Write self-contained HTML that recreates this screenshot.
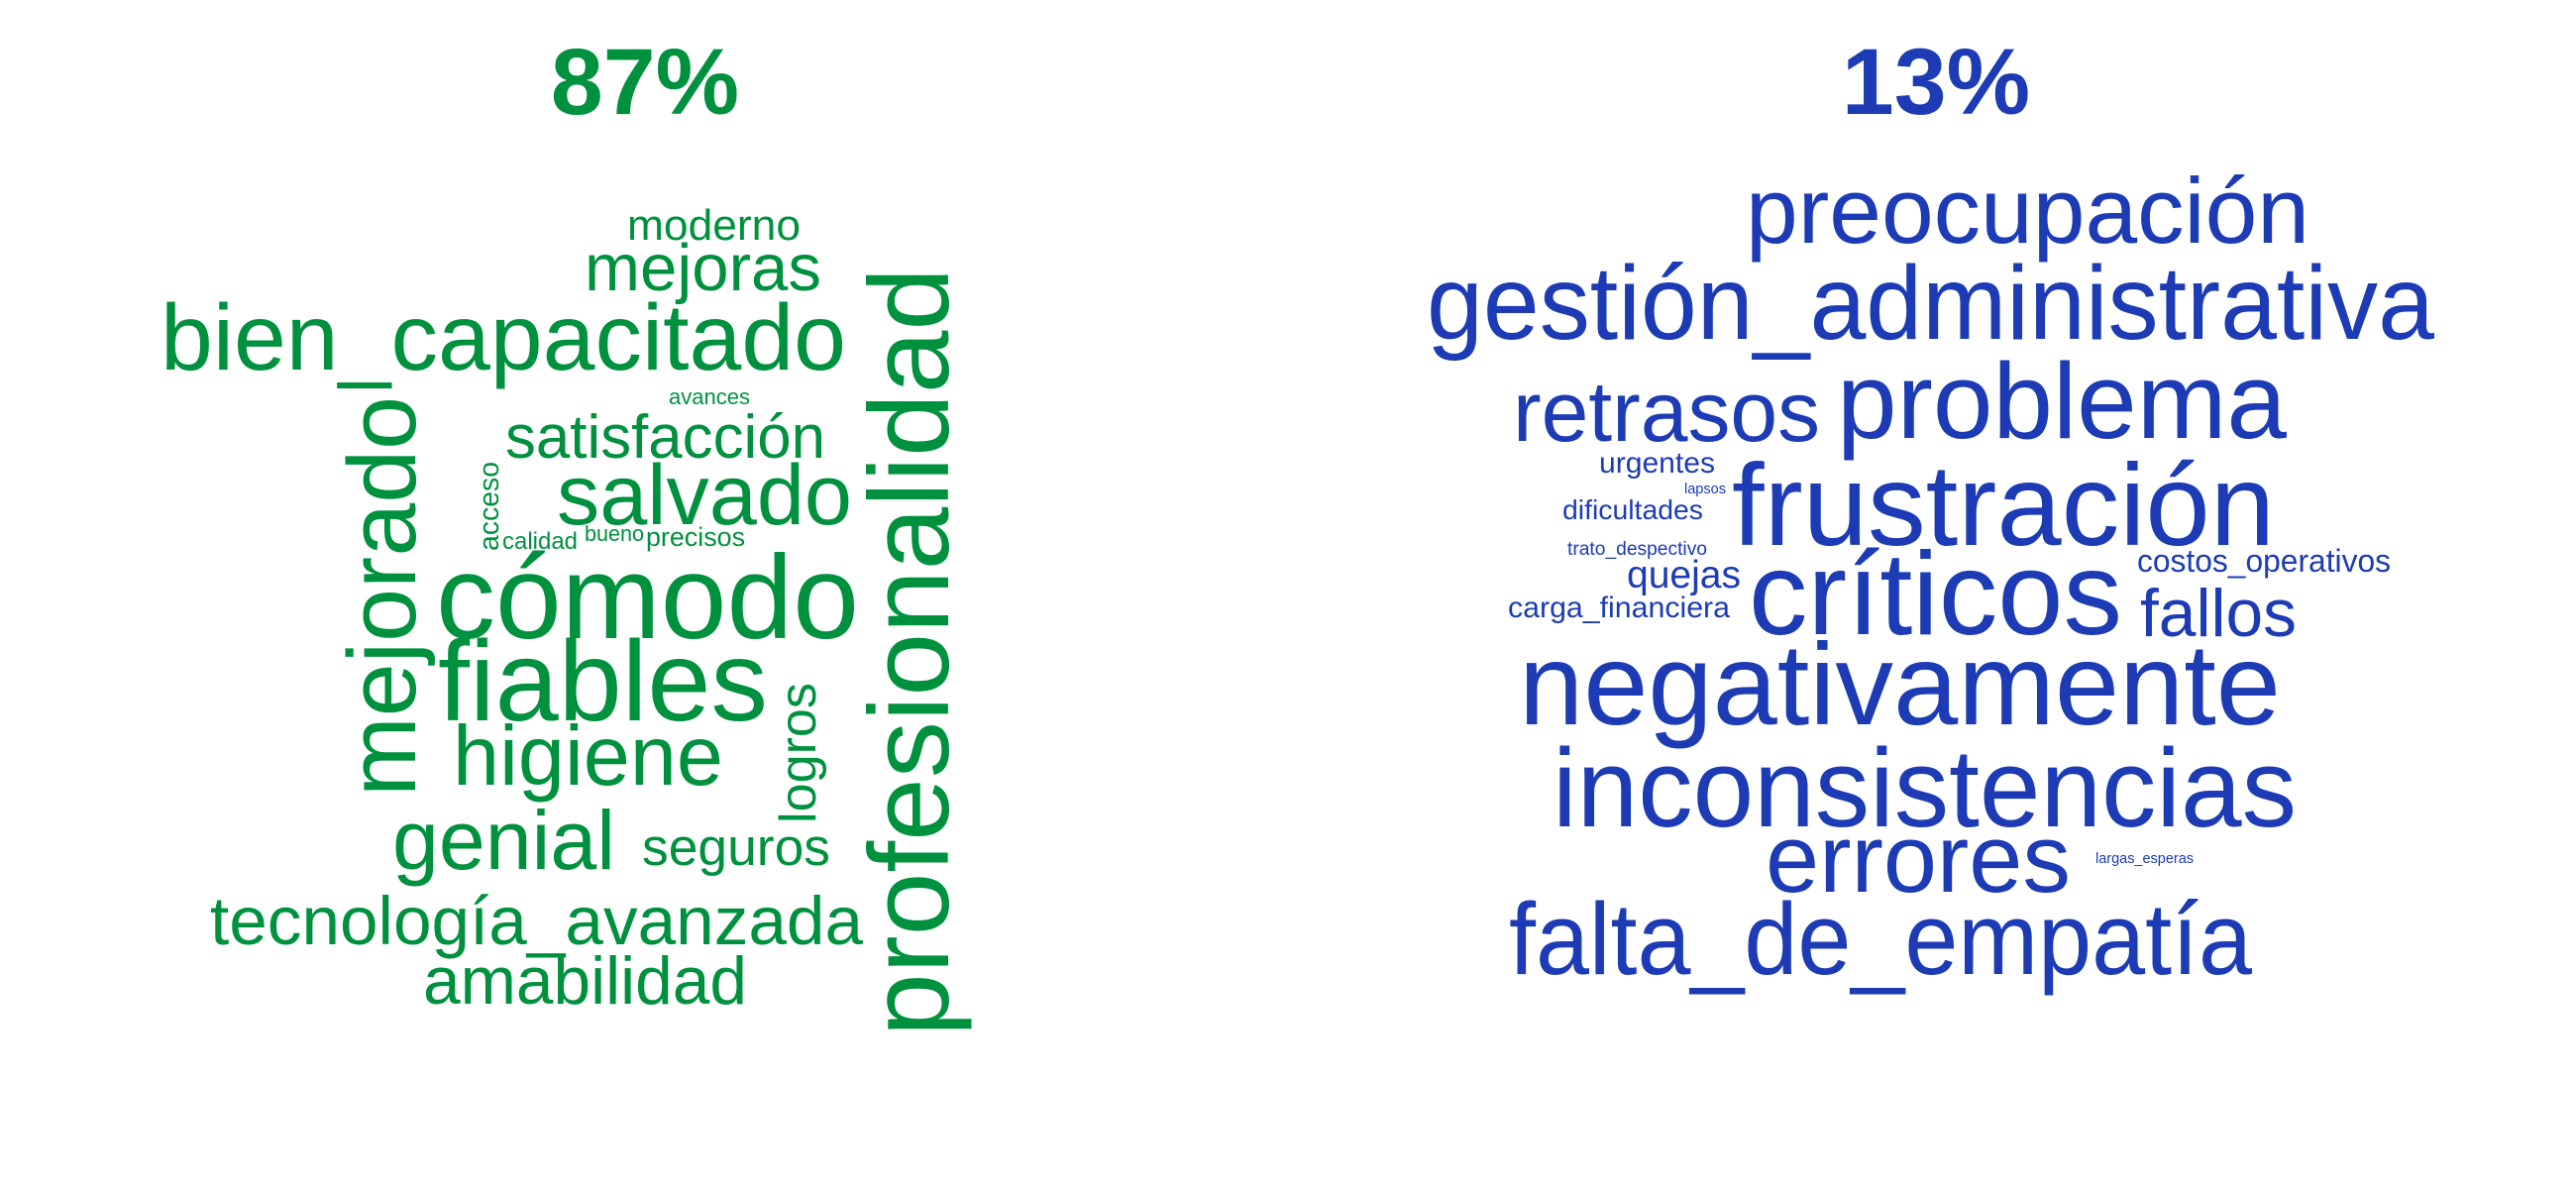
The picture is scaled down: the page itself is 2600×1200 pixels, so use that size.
<!DOCTYPE html>
<html><head><meta charset="utf-8"><style>
html,body{margin:0;padding:0;background:#fff;}
svg{display:block;font-family:"Liberation Sans",Arial,sans-serif;}
</style></head><body>
<svg id="chart" width="2600" height="1200" viewBox="0 0 2600 1200" xmlns="http://www.w3.org/2000/svg">
<rect width="2600" height="1200" fill="#ffffff"/>
<text x="651" y="115" font-size="95" font-weight="bold" fill="#00913f" text-anchor="middle">87%</text>
<text x="1954" y="115" font-size="95" font-weight="bold" fill="#1c3bb5" text-anchor="middle">13%</text>
<g id="pos"></g>
<g id="neg"></g>
</svg>
<script>
const posWords = ["moderno","mejoras","bien_capacitado","avances","satisfacción","salvado","acceso","calidad","bueno","precisos","cómodo","mejorado","fiables","higiene","logros","genial","seguros","tecnología_avanzada","amabilidad","profesionalidad"];
const posX = [633,590,162,675,510,562,503,507,590,652,440,419,442,457,823,396,648,212,427,957];
const posY = [242,293,373,408,462,529,556,554,546,551,644,804,727,792,831,877,873,953,1013,1046];
const posW = [175,239,692,82,323,298,90,76,60,100,427,404,333,273,142,225,190,659,327,776];
const posS = [44,67,95,22,62,86,29,24,22,27,120,97,115,85,52,84,53,69,68,114];
const posR = [0,0,0,0,0,0,1,0,0,0,0,1,0,0,1,0,0,0,0,1];
const negWords = ["preocupación","gestión_administrativa","retrasos","problema","urgentes","lapsos","dificultades","frustración","trato_despectivo","costos_operativos","quejas","carga_financiera","críticos","fallos","negativamente","inconsistencias","errores","largas_esperas","falta_de_empatía"];
const negX = [1762,1440,1527,1854,1614,1700,1577,1748,1582,2157,1642,1522,1765,2160,1533,1567,1782,2115,1523];
const negY = [245,342,445,442,477,498,524,550,560,577,593,623,640,642,731,834,900,871,983];
const negW = [569,1017,310,454,117,42,142,548,141,256,115,224,377,158,769,751,308,99,750];
const negS = [94,106,86,109,30,14.5,28,117,19,32,39,30,119,68,117,112,97,14.4,103];
const NS = "http://www.w3.org/2000/svg";
function draw(gid, words, xs, ys, ws, ss, rs, color){
  const g = document.getElementById(gid);
  for (let i = 0; i < words.length; i++){
    const t = document.createElementNS(NS, "text");
    
    
    t.setAttribute("font-size", ss[i]);
    t.setAttribute("fill", color);
    t.setAttribute("textLength", ws[i]);
    t.setAttribute("lengthAdjust", "spacingAndGlyphs");
    if (rs[i]) {
      t.setAttribute("x", 0); t.setAttribute("y", 0);
      t.setAttribute("transform", "translate(" + xs[i] + "," + ys[i] + ") rotate(-90)");
    } else {
      t.setAttribute("x", xs[i]); t.setAttribute("y", ys[i]);
    }
    t.textContent = words[i];
    g.appendChild(t);
  }
}
draw("pos", posWords, posX, posY, posW, posS, posR, "#00913f");
draw("neg", negWords, negX, negY, negW, negS, negWords.map(() => 0), "#1c3bb5");
</script>
</body></html>
